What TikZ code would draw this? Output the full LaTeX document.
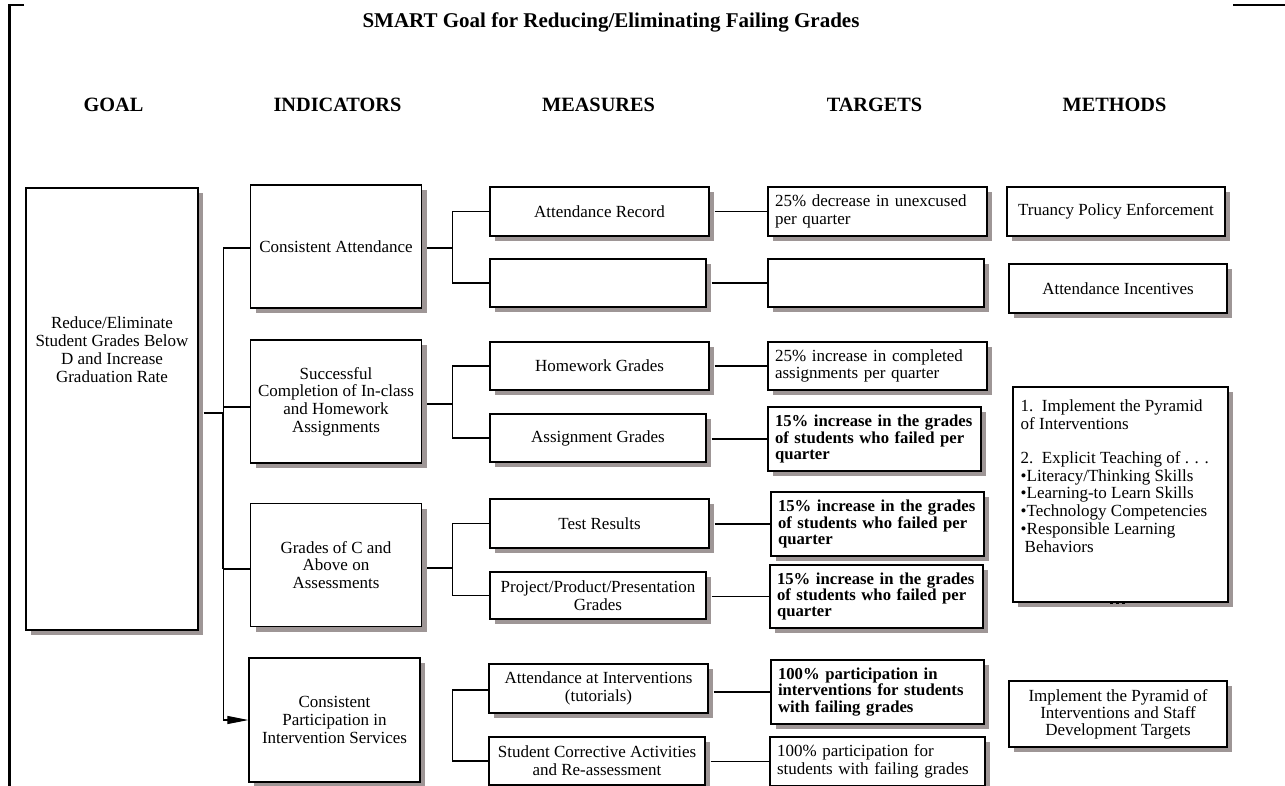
\documentclass[tikz,border=0pt]{standalone}
\usepackage{fontspec}
\setmainfont{Liberation Serif}
\usetikzlibrary{arrows.meta,shadows}
\definecolor{shadowgrey}{RGB}{158,150,150}
\tikzset{
  box/.style={draw=black, line width=1.2pt, fill=white, inner sep=0pt, align=center,
    font=\fontsize{17}{17.7}\selectfont,
    drop shadow={shadow xshift=5pt, shadow yshift=-5pt, fill=shadowgrey, opacity=1}},
  tbox/.style={box, align=left, inner xsep=7pt, text width=#1},
  btbox/.style={tbox=#1, font=\fontsize{16.7}{16.3}\selectfont\bfseries},
  hdr/.style={font=\fontsize{20.3}{24}\selectfont\bfseries, inner sep=0pt, anchor=base},
  conn/.style={draw=black, line width=1.1pt},
  thickconn/.style={draw=black, line width=1.9pt},
  frameline/.style={draw=black, line width=2.2pt},
}
\begin{document}
\begin{tikzpicture}[x=1pt, y=-1pt]
\useasboundingbox (0,0) rectangle (1285,786);

% page frame
\draw[frameline] (24,5) -- (9.5,5) -- (9.5,786);
\draw[frameline] (1233,5) -- (1285,5);

% title and column headers
\node[hdr, font=\fontsize{21}{24}\selectfont\bfseries] (title) at (611,28)
  {SMART Goal for Reducing/Eliminating Failing Grades};
\node[hdr] (hgoal) at (113.5,111.5) {GOAL};
\node[hdr] (hind) at (337.5,111.5) {INDICATORS};
\node[hdr] (hmeas) at (598.5,111.5) {MEASURES};
\node[hdr] (htarg) at (874.5,111.5) {TARGETS};
\node[hdr] (hmeth) at (1114.5,111.5) {METHODS};

% goal
\node[box, minimum width=172pt, minimum height=442pt] (goal) at (112,409) {};
\node[align=center, inner sep=0pt, font=\fontsize{17}{18}\selectfont] (goaltext) at (112,350)
  {Reduce/Eliminate\\Student Grades Below\\D and Increase\\Graduation Rate};

% indicators
\node[box, minimum width=171pt, minimum height=123pt] (ind1) at (336,246.5) {Consistent Attendance};
\node[box, minimum width=171pt, minimum height=123pt] (ind2) at (336,401.5)
  {Successful\\Completion of In-class\\and Homework\\Assignments};
\node[box, minimum width=171pt, minimum height=123pt] (ind3) at (336,565)
  {Grades of C and\\Above on\\Assessments};
\node[box, minimum width=171pt, minimum height=124pt] (ind4) at (334.5,720)
  {Consistent\\Participation in\\Intervention Services};

% measures
\node[box, minimum width=219pt, minimum height=49pt] (mA1) at (599.5,211.5) {Attendance Record};
\node[box, minimum width=216pt, minimum height=48pt] (mA2) at (598,283) {};
\node[box, minimum width=219pt, minimum height=48pt] (mB1) at (599.5,366) {Homework Grades};
\node[box, minimum width=216pt, minimum height=48pt] (mB2) at (598,438) {Assignment Grades};
\node[box, minimum width=219pt, minimum height=49pt] (mC1) at (599.5,523.5) {Test Results};
\node[box, minimum width=216pt, minimum height=47pt] (mC2) at (598,595.5)
  {Project/Product/Presentation\\Grades};
\node[box, minimum width=219pt, minimum height=49pt] (mD1) at (598.5,688.5)
  {Attendance at Interventions\\(tutorials)};
\node[box, minimum width=216pt, minimum height=48pt] (mD2) at (597,761)
  {Student Corrective Activities\\and Re-assessment};

% targets
\node[tbox=205pt, minimum height=49pt] (tA1) at (877.5,211.5)
  {\mbox{25\% decrease in unexcused}\\\mbox{per quarter}};
\node[tbox=202pt, minimum height=48pt] (tA2) at (876,283) {};
\node[tbox=205pt, minimum height=48pt] (tB1) at (877.5,366)
  {\mbox{25\% increase in completed}\\\mbox{assignments per quarter}};
\node[btbox=199pt, minimum height=64pt] (tB2) at (874.5,439)
  {\mbox{15\% increase in the grades}\\\mbox{of students who failed per}\\quarter};
\node[btbox=199pt, minimum height=64pt] (tC1) at (877.5,524)
  {\mbox{15\% increase in the grades}\\\mbox{of students who failed per}\\quarter};
\node[btbox=199pt, minimum height=63pt] (tC2) at (876.5,596.5)
  {\mbox{15\% increase in the grades}\\\mbox{of students who failed per}\\quarter};
\node[btbox=199pt, minimum height=64pt] (tD1) at (877.5,692)
  {\mbox{100\% participation in}\\\mbox{interventions for students}\\\mbox{with failing grades}};
\node[tbox=201pt, minimum height=49pt] (tD2) at (877.5,761.5)
  {\mbox{100\% participation for}\\\mbox{students with failing grades}};

% methods
\node[box, minimum width=218pt, minimum height=49pt] (mt1) at (1116,211.5) {Truancy Policy Enforcement};
\node[box, minimum width=218pt, minimum height=49pt] (mt2) at (1118,288.5) {Attendance Incentives};
\node[box, minimum width=215pt, minimum height=215pt] (mt3) at (1120.5,494.5) {};
\node[anchor=north west, inner sep=0pt, align=left, font=\fontsize{17}{17.8}\selectfont] (mt3text)
  at (1020.5,399.5)
  {1.\ \ Implement the Pyramid\\of Interventions\\[16.2pt]2.\ \ Explicit Teaching of . . .\\%
   •Literacy/Thinking Skills\\•Learning-to Learn Skills\\•Technology Competencies\\%
   •Responsible Learning\\\hspace*{4pt}Behaviors};
\foreach \dx in {-6,0,6}
  \fill[black] (1116.2+\dx,601.3) rectangle ++(2.8,2.8);
\node[box, minimum width=218pt, minimum height=66pt, font=\fontsize{17}{17}\selectfont] (mt4) at (1118,714)
  {Implement the Pyramid of\\Interventions and Staff\\Development Targets};

% goal to indicators
\coordinate (ge) at ([xshift=5pt]goal.east);
\coordinate (tr1) at (223.3,248);
\coordinate (tr2) at (223.3,407);
\coordinate (trj) at (223.3,413);
\coordinate (tr3) at (223.3,569);
\coordinate (tr4) at (223.3,720);
\draw[conn] (tr1) -- (tr4);
\draw[conn] (tr1) -- (tr1 -| ind1.west);
\draw[conn] (tr2) -- (tr2 -| ind2.west);
\draw[conn] (tr3) -- (tr3 -| ind3.west);
\draw[conn, -{Triangle[length=21pt,width=8pt]}] (tr4) -- (tr4 -| ind4.west);
\draw[thickconn] (ge |- trj) -- (trj) -- (tr3);

% indicators to measures
\coordinate (i1e) at ([xshift=5pt]ind1.east);
\coordinate (i2e) at ([xshift=5pt]ind2.east);
\coordinate (i3e) at ([xshift=5pt]ind3.east);
\coordinate (jA) at (452.7,248);
\coordinate (jB) at (452.7,404);
\coordinate (jC) at (452.7,568);
\coordinate (jD) at (452.7,726);
\draw[conn] (i1e |- jA) -- (jA);
\draw[conn] (mA1.west) -- (mA1.west -| jA) -- (mA2.west -| jA) -- (mA2.west);
\draw[conn] (i2e |- jB) -- (jB);
\draw[conn] (mB1.west) -- (mB1.west -| jB) -- (mB2.west -| jB) -- (mB2.west);
\draw[conn] (i3e |- jC) -- (jC);
\draw[conn] (mC1.west) -- (mC1.west -| jC) -- (mC2.west -| jC) -- (mC2.west);
\draw[conn] ([yshift=-1.5pt]mD1.west) -- ([yshift=-1.5pt]mD1.west -| jD) -- (mD2.west -| jD) -- (mD2.west);

% measures to targets
\foreach \m/\t in {mA1/tA1, mA2/tA2, mB1/tB1, mB2/tB2, mC1/tC1, mC2/tC2, mD1/tD1, mD2/tD2}{
  \coordinate (\m e) at ([xshift=5pt]\m.east);
  \draw[conn] (\m e |- \t.west) -- (\t.west);
}
\end{tikzpicture}
\end{document}
